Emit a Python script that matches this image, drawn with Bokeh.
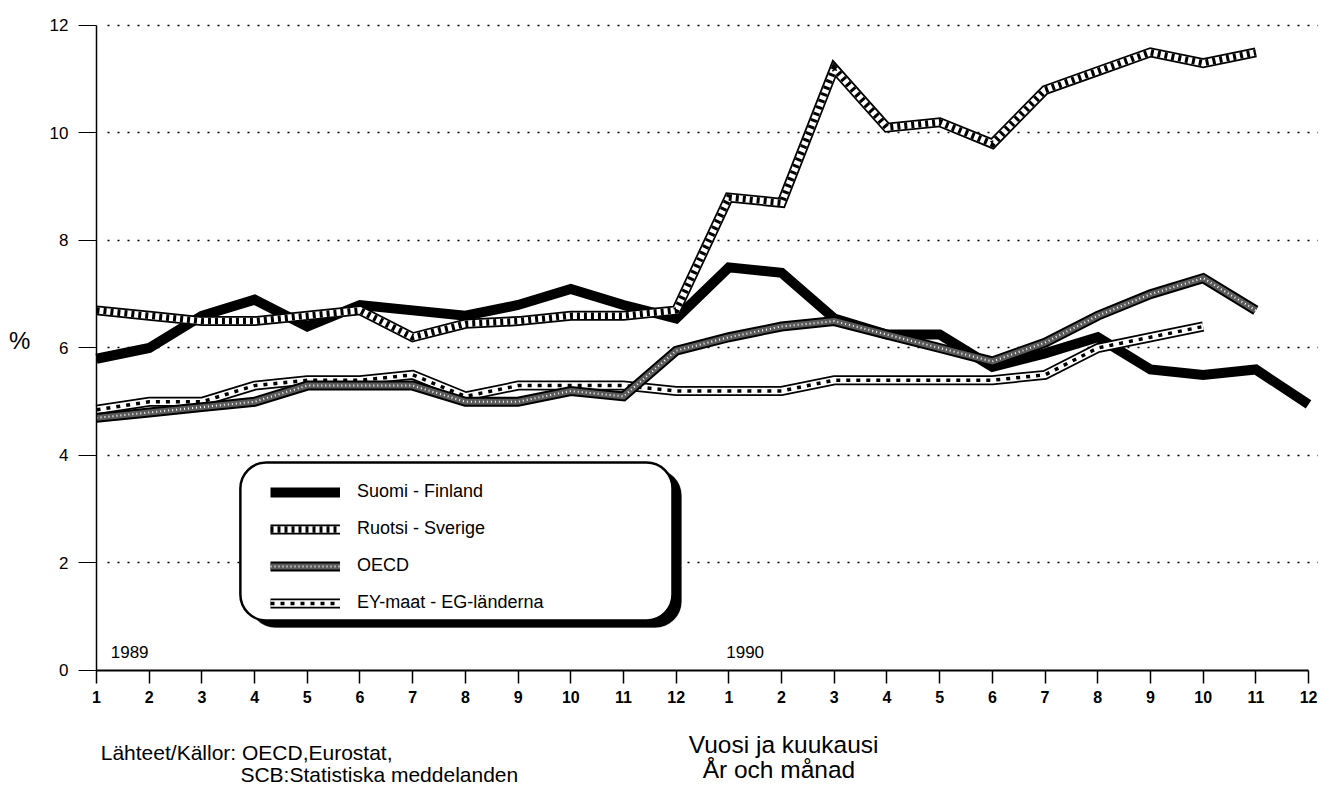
from bokeh.plotting import figure
from bokeh.models import BoxAnnotation, Label, Legend, LegendItem, FixedTicker, Range1d
from bokeh.embed import file_html
from bokeh.resources import INLINE

# ---- data ----
months = list(range(1, 25))                      # 1989 M1 .. 1990 M12
month_labels = [str(m) for m in range(1, 13)] * 2
years = ["1989", "1990"]
y_ticks = [0, 2, 4, 6, 8, 10, 12]

series_names = ["Suomi - Finland", "Ruotsi - Sverige", "OECD", "EY-maat - EG-länderna"]

finland = [5.8, 6.0, 6.6, 6.9, 6.4, 6.8, 6.7, 6.6, 6.8, 7.1, 6.8, 6.55,
           7.5, 7.4, 6.55, 6.25, 6.25, 5.65, 5.9, 6.2, 5.6, 5.5, 5.6, 4.95]
sweden = [6.7, 6.6, 6.5, 6.5, 6.6, 6.7, 6.2, 6.45, 6.5, 6.6, 6.6, 6.7,
          8.8, 8.7, 11.2, 10.1, 10.2, 9.8, 10.8, 11.15, 11.5, 11.3, 11.5]
oecd = [4.7, 4.8, 4.9, 5.0, 5.3, 5.3, 5.3, 5.0, 5.0, 5.2, 5.1, 5.95,
        6.2, 6.4, 6.5, 6.25, 6.0, 5.75, 6.1, 6.6, 7.0, 7.3, 6.7]
ec = [4.85, 5.0, 5.0, 5.3, 5.4, 5.4, 5.5, 5.1, 5.3, 5.3, 5.3, 5.2,
      5.2, 5.2, 5.4, 5.4, 5.4, 5.4, 5.5, 6.0, 6.2, 6.4]

FONT = "Liberation Sans"

# frame covers the whole canvas; axes are pinned at month 1 / value 0
p = figure(width=1318, height=787,
           x_range=Range1d(-0.822, 24.189), y_range=Range1d(-2.177, 12.465),
           output_backend="svg", toolbar_location=None,
           min_border_left=0, min_border_right=0,
           min_border_top=0, min_border_bottom=0)
p.outline_line_color = None
p.background_fill_color = "white"

# axes
p.xaxis.fixed_location = 0
p.xaxis.bounds = (1, 24)
p.xaxis.ticker = FixedTicker(ticks=months)
p.xaxis.major_label_overrides = {m: lab for m, lab in zip(months, month_labels)}
p.xaxis.major_label_text_font = FONT
p.xaxis.major_label_text_font_size = "16px"
p.xaxis.major_label_text_font_style = "bold"
p.xaxis.major_label_text_color = "black"
p.xaxis.major_tick_out = 13
p.xaxis.major_tick_in = 0
p.xaxis.minor_tick_out = 0
p.xaxis.minor_tick_in = 0
p.xaxis.axis_line_width = 2
p.xaxis.axis_line_color = "black"
p.xaxis.major_tick_line_width = 1.5
p.xaxis.major_tick_line_color = "black"
p.xaxis.major_label_standoff = 8

p.yaxis.fixed_location = 1
p.yaxis.bounds = (0, 12)
p.yaxis.ticker = FixedTicker(ticks=y_ticks)
p.yaxis.major_label_text_font = FONT
p.yaxis.major_label_text_font_size = "17px"
p.yaxis.major_label_text_color = "black"
p.yaxis.major_tick_out = 18
p.yaxis.major_tick_in = 0
p.yaxis.minor_tick_out = 0
p.yaxis.minor_tick_in = 0
p.yaxis.axis_line_width = 1.5
p.yaxis.axis_line_color = "black"
p.yaxis.major_tick_line_color = "black"
p.yaxis.major_label_standoff = 10

p.xgrid.visible = False
p.ygrid.ticker = FixedTicker(ticks=y_ticks[1:])
p.ygrid.cross_bounds = (1.2, 24.2)
p.ygrid.grid_line_color = "black"
p.ygrid.grid_line_dash = "2 8"
p.ygrid.grid_line_width = 1.5

# ---- series (Finland at bottom, Sweden on top) ----
J = "miter"
xf = months[:len(finland)]
r_fin = [p.line(xf, finland, line_width=10, line_color="black", line_join=J)]

xe = months[:len(ec)]
r_ec = [
    p.line(xe, ec, line_width=10, line_color="black", line_join=J),
    p.line(xe, ec, line_width=6.5, line_color="white", line_join=J),
    p.line(xe, ec, line_width=3.5, line_color="black", line_dash="4 6", line_join=J),
]

xo = months[:len(oecd)]
r_oecd = [
    p.line(xo, oecd, line_width=10, line_color="black", line_join=J),
    p.line(xo, oecd, line_width=6, line_color="#5a5a5a", line_join=J),
    p.line(xo, oecd, line_width=2, line_color="white", line_dash="1 3", line_join=J),
]

xs = months[:len(sweden)]
r_swe = [
    p.line(xs, sweden, line_width=10, line_color="black", line_join=J),
    p.line(xs, sweden, line_width=6.5, line_color="white", line_join=J),
    p.line(xs, sweden, line_width=6.5, line_color="black", line_dash="3 4", line_join=J),
]

# ---- legend box with shadow ----
shadow = BoxAnnotation(left=3.90, right=12.10, top=3.74, bottom=0.80,
                       fill_color="black", fill_alpha=1.0,
                       line_color="black", line_width=1, border_radius=26)
box = BoxAnnotation(left=3.73, right=11.93, top=3.87, bottom=0.93,
                    fill_color="white", fill_alpha=1.0,
                    line_color="black", line_alpha=1.0, line_width=2.5,
                    border_radius=26)
p.add_layout(shadow)
p.add_layout(box)

legend = Legend(items=[LegendItem(label=series_names[0], renderers=r_fin),
                       LegendItem(label=series_names[1], renderers=r_swe),
                       LegendItem(label=series_names[2], renderers=r_oecd),
                       LegendItem(label=series_names[3], renderers=r_ec)],
                location=(270, 174), orientation="vertical",
                padding=0, margin=0, spacing=16,
                glyph_width=70, glyph_height=20, label_height=20,
                label_standoff=17,
                label_text_font=FONT, label_text_font_size="18px",
                label_text_color="black",
                background_fill_alpha=0, border_line_color=None)
p.add_layout(legend)

# ---- texts ----
def lab(x, y, text, size, align="left", style="normal"):
    p.add_layout(Label(x=x, y=y, text=text, text_font=FONT,
                       text_font_size=size, text_align=align,
                       text_baseline="middle", text_color="black",
                       text_font_style=style))

lab(-0.46, 6.14, "%", "24px", align="center")
lab(1.27, 0.35, years[0], "17px")
lab(12.95, 0.35, years[1], "17px")
lab(1.08, -1.52, "Lähteet/Källor: OECD,Eurostat,", "21px")
lab(3.73, -1.94, "SCB:Statistiska meddelanden", "21px")
lab(14.04, -1.38, "Vuosi ja kuukausi", "24.5px", align="center")
lab(13.95, -1.84, "År och månad", "24.5px", align="center")

open("out.html", "w").write(file_html(p, INLINE))
